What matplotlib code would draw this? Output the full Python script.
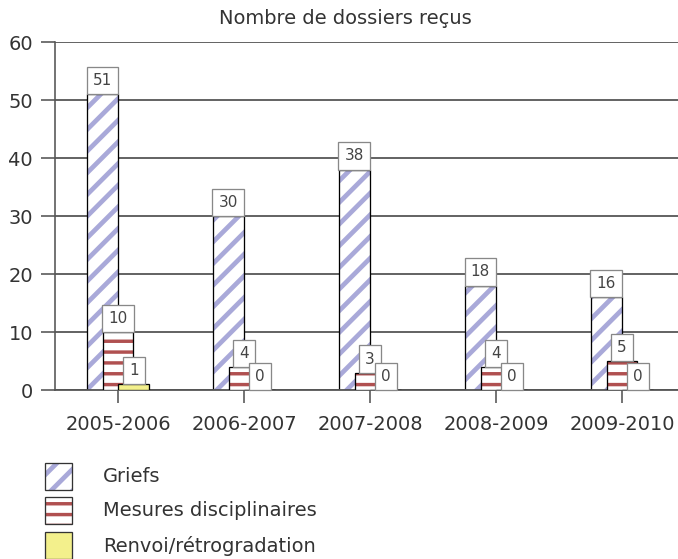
import numpy as np
import matplotlib
matplotlib.use("Agg")
import matplotlib.pyplot as plt
from matplotlib.patches import Rectangle

# data
years = ['2005-2006', '2006-2007', '2007-2008', '2008-2009', '2009-2010']
griefs = [51, 30, 38, 18, 16]
mesures = [10, 4, 3, 4, 5]
renvoi = [1, 0, 0, 0, 0]

series_names = ['Griefs', 'Mesures disciplinaires', 'Renvoi/rétrogradation']

# dpi 130 so the hatch tile spacing matches the original stripes;
# sizes below are given in pixels and converted to points
DPI = 130
W, H = 678, 559


def pt(px):
    return px * 72.0 / DPI


plt.rcParams['font.family'] = 'DejaVu Sans'
txt = '#333333'
lavender = '#a9a9d9'
darkred = '#b05050'
yellow = '#f3f08c'

fig = plt.figure(figsize=(W / DPI, H / DPI), dpi=DPI)
ax = fig.add_axes([55 / W, 169 / H, 630 / W, 348 / H])

x = np.arange(len(years))
w = 0.246
offsets = [-0.125, 0.0, 0.125]
styles = [('//', lavender, 2.6, 'white'), ('--', darkred, 1.9, 'white'),
          (None, None, 1.0, yellow)]


def hatched_bars(xpos, vals, hatch, hcolor, hlw, z, face='white'):
    if hatch:
        with plt.rc_context({'hatch.linewidth': hlw}):
            b = ax.bar(xpos, vals, w, color=face, edgecolor=hcolor, hatch=hatch,
                       linewidth=0, zorder=z)
        for p in b:
            if hasattr(p, 'set_hatch_linewidth'):
                p.set_hatch_linewidth(hlw)
        ax.bar(xpos, vals, w, fill=False, edgecolor='black', linewidth=pt(1.3), zorder=z + 0.1)
    else:
        ax.bar(xpos, vals, w, color=face, edgecolor='black', linewidth=pt(1.3), zorder=z)


for i, (vals, off) in enumerate(zip([griefs, mesures, renvoi], offsets)):
    h, hc, hlw, face = styles[i]
    hatched_bars(x + off, vals, h, hc, hlw, 2 + i, face)

# value boxes
for vals, off in zip([griefs, mesures, renvoi], offsets):
    for xi, v in zip(x, vals):
        ax.annotate(str(v), (xi + off, v), xytext=(0, pt(6.1)), textcoords='offset points',
                    ha='center', va='bottom', fontsize=pt(15.3), color='#444444', zorder=6,
                    bbox=dict(boxstyle='square,pad=0.4', fc='white', ec='#888888', lw=pt(1.3)))

ax.set_xlim(-0.5, 4.5)
ax.set_ylim(0, 60)
ax.set_yticks(range(0, 61, 10))
ax.set_xticks(x)
ax.set_xticklabels(years)
ax.yaxis.grid(True, color='#555555', linewidth=pt(1.8), zorder=0.5)
ax.set_axisbelow(True)
ax.tick_params(axis='y', length=pt(14), width=pt(1.6), color='#555555', pad=pt(8),
               labelsize=pt(19.4), labelcolor=txt)
ax.tick_params(axis='x', length=pt(13), width=pt(1.6), color='#555555', pad=pt(12.5),
               labelsize=pt(19.4), labelcolor=txt)
for s in ['top', 'right']:
    ax.spines[s].set_visible(False)
ax.spines['left'].set_color('#555555')
ax.spines['left'].set_linewidth(pt(1.6))
ax.spines['bottom'].set_color('#555555')
ax.spines['bottom'].set_linewidth(pt(1.8))

fig.text(345 / W, 1 - 18 / H, 'Nombre de dossiers reçus', ha='center', va='center',
         fontsize=pt(19.4), color=txt)

# legend drawn by hand so each swatch keeps its own hatch width
sw = 27
tops = [463, 497, 532]
for (h, hc, hlw, face), name, top in zip(styles, series_names, tops):
    rect = [45 / W, 1 - (top + sw) / H, sw / W, sw / H]
    if h:
        with plt.rc_context({'hatch.linewidth': hlw}):
            r = Rectangle((rect[0], rect[1]), rect[2], rect[3], transform=fig.transFigure,
                          facecolor=face, edgecolor=hc, hatch=h, linewidth=0)
        if hasattr(r, 'set_hatch_linewidth'):
            r.set_hatch_linewidth(hlw)
        fig.add_artist(r)
    fig.add_artist(Rectangle((rect[0], rect[1]), rect[2], rect[3], transform=fig.transFigure,
                             facecolor=face if not h else 'none', edgecolor='#333333',
                             linewidth=pt(1.3)))
    fig.text(103 / W, 1 - (top + sw / 2) / H, name, ha='left', va='center',
             fontsize=pt(19.4), color=txt)

fig.savefig('out.png', dpi=DPI)
